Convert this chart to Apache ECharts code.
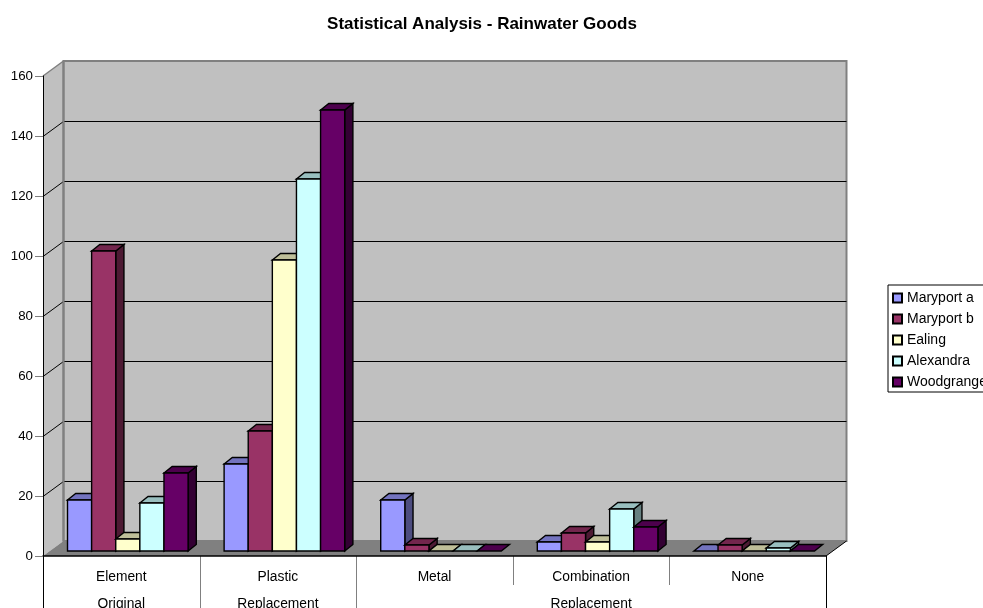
<!DOCTYPE html>
<html>
<head>
<meta charset="utf-8">
<style>html,body{margin:0;padding:0;background:#fff;overflow:hidden}#chart{width:983px;height:608px}</style>
<script src="https://cdn.jsdelivr.net/npm/echarts@6/dist/echarts.min.js"></script>
</head>
<body>
<div id="chart"></div>
<script>
// Rainwater goods survey: counts per element type for each site.
const categories = ['Element', 'Plastic', 'Metal', 'Combination', 'None'];
const maryportA = [17, 29, 17, 3, 0];
const maryportB = [100, 40, 2, 6, 2];
const ealing = [4, 97, 0, 3, 0];
const alexandra = [16, 124, 0, 14, 1];
const woodgrange = [26, 147, 0, 8, 0];
const siteNames = ['Maryport a', 'Maryport b', 'Ealing', 'Alexandra', 'Woodgrange'];
const siteColors = ['#9999FF', '#993366', '#FFFFCC', '#CCFFFF', '#660066'];
const groupLabels = ['Original', 'Replacement', 'Replacement'];
const groupSpans = [1, 1, 3];
const yTicks = [0, 20, 40, 60, 80, 100, 120, 140, 160];

const FAMILY = '"Liberation Sans", Arial, sans-serif';
const LABEL_SIZE = 13.8;
// Oblique projection of the box: depth of the walls and of each column, in pixels.
const WALL_DX = 20.5, WALL_DY = -15;
const BAR_FRONT_DX = 6.5, BAR_FRONT_DY = -5;
const BAR_DX = 8.2, BAR_DY = -6.5;
const BAR_SHARE = 0.77;

function shade(hex, f) {
  const n = parseInt(hex.slice(1), 16);
  const c = [n >> 16 & 255, n >> 8 & 255, n & 255].map(v => Math.round(v * f));
  return 'rgb(' + c.join(',') + ')';
}

function poly(points, fill, stroke, lineWidth) {
  return { type: 'polygon', shape: { points }, style: { fill, stroke, lineWidth: lineWidth } };
}

// Left wall, back wall and floor of the box.
function renderWalls(params) {
  const r = params.coordSys;
  const l = r.x, t = r.y, w = r.width, h = r.height;
  const b = t + h, R = l + w;
  const dx = WALL_DX, dy = WALL_DY;
  return {
    type: 'group',
    children: [
      poly([[l, t], [l + dx, t + dy], [l + dx, b + dy], [l, b]], '#C0C0C0', null, 0),
      poly([[l + dx, t + dy], [R + dx, t + dy], [R + dx, b + dy], [l + dx, b + dy]], '#C0C0C0', '#808080', 2),
      poly([[l, b], [l + dx, b + dy], [R + dx, b + dy], [R, b]], '#808080', null, 0),
      { type: 'line', shape: { x1: l, y1: t, x2: l + dx, y2: t + dy }, style: { stroke: '#808080', lineWidth: 1.5 } },
      { type: 'line', shape: { x1: R, y1: b, x2: R + dx, y2: b + dy }, style: { stroke: '#000', lineWidth: 1 } }
    ]
  };
}

// Horizontal gridline running along the left wall and across the back wall.
function renderGridline(params, api) {
  const v = api.value(1);
  if (v === 0 || v === yTicks[yTicks.length - 1]) return { type: 'group', children: [] };
  const r = params.coordSys;
  const y = Math.round(api.coord([0, v])[1]) + 0.5;
  return {
    type: 'polyline',
    shape: { points: [[r.x, y], [r.x + WALL_DX, y + WALL_DY], [r.x + r.width + WALL_DX, y + WALL_DY]] },
    style: { fill: null, stroke: '#000', lineWidth: 1 }
  };
}

// One column per data item: front face, top face and right-hand side face.
function renderBar(siteIndex) {
  return function (params, api) {
    const base = api.coord([api.value(0), 0]);
    const top = api.coord([api.value(0), api.value(1)]);
    const slot = api.size([1, 0])[0];
    const barW = slot * BAR_SHARE / siteNames.length;
    const x0 = base[0] - slot * BAR_SHARE / 2 + BAR_FRONT_DX + siteIndex * barW;
    const x1 = x0 + barW;
    const yb = base[1] + BAR_FRONT_DY;
    const yt = top[1] + BAR_FRONT_DY;
    const color = siteColors[siteIndex];
    const lw = 1.4;
    const children = [];
    if (yb > yt) {
      children.push(poly([[x1, yt], [x1 + BAR_DX, yt + BAR_DY], [x1 + BAR_DX, yb + BAR_DY], [x1, yb]], shade(color, 0.5), '#000', lw));
    }
    children.push(poly([[x0, yt], [x0 + BAR_DX, yt + BAR_DY], [x1 + BAR_DX, yt + BAR_DY], [x1, yt]], shade(color, 0.75), '#000', lw));
    if (yb > yt) {
      children.push(poly([[x0, yt], [x1, yt], [x1, yb], [x0, yb]], color, '#000', lw));
    }
    return { type: 'group', children };
  };
}

// Short gray separators between neighbouring categories.
function renderCategorySeparator(params, api) {
  const slot = api.size([1, 0])[0];
  const x = Math.round(api.coord([api.value(0), 0])[0] + slot / 2) + 0.5;
  const y = api.coord([0, 0])[1];
  return { type: 'line', shape: { x1: x, y1: y, x2: x, y2: y + 29 }, style: { stroke: '#808080', lineWidth: 1 } };
}

// Second row of the category axis: group names and their separators.
function renderGroup(params, api) {
  const idx = params.dataIndex;
  const start = groupSpans.slice(0, idx).reduce((a, b) => a + b, 0);
  const span = groupSpans[idx];
  const slot = api.size([1, 0])[0];
  const left = api.coord([start, 0])[0] - slot / 2;
  const right = left + span * slot;
  const y = api.coord([0, 0])[1];
  const bottom = api.getHeight();
  const sep = (x, stroke) => ({ type: 'line', shape: { x1: x, y1: y, x2: x, y2: bottom }, style: { stroke, lineWidth: 1 } });
  const outer = idx === groupLabels.length - 1 ? '#000' : '#808080';
  const children = [
    { type: 'text', style: { x: (left + right) / 2, y: y + 48.5, text: groupLabels[idx], textAlign: 'center', textVerticalAlign: 'middle', font: LABEL_SIZE + 'px ' + FAMILY, fill: '#000' } },
    sep(Math.round(right) + 0.5, outer)
  ];
  if (idx === 0) children.push(sep(Math.round(left) + 0.5, '#000'));
  return { type: 'group', children };
}

const siteValues = [maryportA, maryportB, ealing, alexandra, woodgrange];

const option = {
  animation: false,
  backgroundColor: '#fff',
  textStyle: { fontFamily: FAMILY },
  title: {
    text: 'Statistical Analysis - Rainwater Goods',
    left: 477, top: 11, textAlign: 'center',
    textStyle: { fontSize: 17, fontWeight: 'bold', color: '#000', fontFamily: FAMILY }
  },
  grid: { left: 43, top: 76, width: 783, height: 480 },
  xAxis: {
    type: 'category', data: categories, z: 10,
    axisLine: { lineStyle: { color: '#000', width: 1.5 } },
    axisTick: { show: false },
    axisLabel: { interval: 0, margin: 14, fontSize: LABEL_SIZE, color: '#000', fontFamily: FAMILY }
  },
  yAxis: {
    type: 'value', min: 0, max: 160, interval: 20, z: 10,
    axisLine: { show: true, lineStyle: { color: '#000', width: 1 } },
    axisTick: { show: true, length: 8, lineStyle: { color: '#808080', width: 1 } },
    axisLabel: { margin: 10, fontSize: 13.3, padding: [4, 0, 0, 0], color: '#000', fontFamily: FAMILY },
    splitLine: { show: false }
  },
  legend: {
    data: siteNames,
    orient: 'vertical', left: 888, top: 285,
    padding: [6, 20, 3, 4],
    itemWidth: 9, itemHeight: 9, itemGap: 7,
    borderColor: '#000', borderWidth: 1,
    icon: 'rect',
    textStyle: { fontSize: 14, color: '#000', fontFamily: FAMILY }
  },
  series: [
    { type: 'custom', name: 'walls', silent: true, z: 1, renderItem: renderWalls, data: [[0, 0]], encode: { x: 0, y: 1 } },
    { type: 'custom', name: 'gridlines', silent: true, z: 1, renderItem: renderGridline, data: yTicks.map(t => [0, t]), encode: { x: 0, y: 1 } },
    { type: 'custom', name: 'separators', silent: true, z: 1, renderItem: renderCategorySeparator, data: [2, 3].map(c => [c, 0]), encode: { x: 0, y: 1 } },
    { type: 'custom', name: 'groups', silent: true, z: 1, renderItem: renderGroup, data: groupLabels.map((g, i) => [i, 0]), encode: { x: 0, y: 1 } },
    { type: 'custom', name: 'wallEdge', silent: true, z: 1, data: [[0, 0]], encode: { x: 0, y: 1 },
      renderItem: (params) => {
        const r = params.coordSys;
        const x = r.x + WALL_DX;
        return { type: 'line', shape: { x1: x, y1: r.y + WALL_DY, x2: x, y2: r.y + r.height + WALL_DY }, style: { stroke: '#808080', lineWidth: 2 } };
      } }
  ].concat(siteNames.map((name, i) => ({
    type: 'custom', name, z: 2,
    renderItem: renderBar(i),
    itemStyle: { color: siteColors[i], borderColor: '#000', borderWidth: 1 },
    data: siteValues[i].map((v, c) => [c, v]),
    encode: { x: 0, y: 1 }
  })))
};

const chart = echarts.init(document.getElementById('chart'), null, { renderer: 'canvas' });
chart.setOption(option);
</script>
</body>
</html>
